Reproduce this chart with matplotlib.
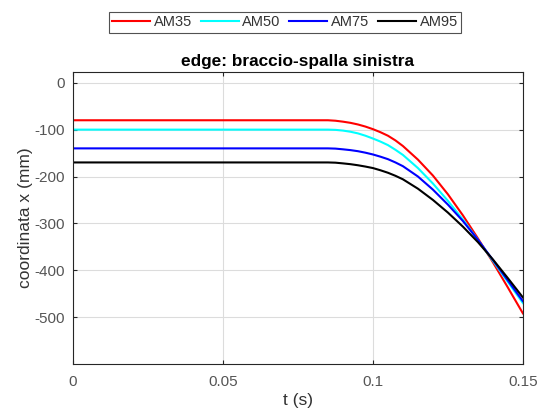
import matplotlib
matplotlib.use("Agg")
import matplotlib.pyplot as plt

plt.rcParams['font.family'] = ['Liberation Sans', 'DejaVu Sans']
plt.rcParams['axes.unicode_minus'] = False

t = [0, 0.05, 0.08, 0.085, 0.0875, 0.09, 0.0925, 0.095, 0.0975, 0.1, 0.1025,
     0.105, 0.1075, 0.11, 0.115, 0.12, 0.125, 0.13, 0.135, 0.14, 0.145, 0.15]
am35 = [-80, -80, -80, -80, -81, -83, -85.5, -89, -93.5, -99, -105.5,
        -113, -123, -135, -164, -198, -238, -283, -332, -383, -437, -492]
am50 = [-100, -100, -100, -100, -100.5, -102, -104.5, -108, -113, -119, -125.5,
        -133, -143, -154, -182, -215, -252, -292, -335, -380, -425, -470]
am75 = [-140, -140, -140, -140, -140.5, -142, -143.7, -146, -149.2, -153, -157.7,
        -163, -170, -178, -200, -228, -260, -295, -335, -378, -422, -466]
am95 = [-170, -170, -170, -170, -170.5, -172, -173.7, -176, -178.8, -182, -186.7,
        -192, -198.5, -206, -226, -250, -277, -307, -340, -377, -417, -458]
labels = ["AM35", "AM50", "AM75", "AM95"]
colors = ["#ff0000", "#00ffff", "#0000ff", "#000000"]
xticks = [0, 0.05, 0.1, 0.15]
xticklabels = ["0", "0.05", "0.1", "0.15"]
yticks = [0, -100, -200, -300, -400, -500]

fig = plt.figure(figsize=(5.46, 4.18), dpi=100)
ax = fig.add_axes([0.1337, 0.1292, 0.824, 0.6986])
lines = []
for y, lab, c in zip([am35, am50, am75, am95], labels, colors):
    ln, = ax.plot(t, y, color=c, lw=1.5, label=lab)
    lines.append(ln)

ax.set_xlim(0, 0.15)
ax.set_ylim(-600, 23)
ax.set_xticks(xticks)
ax.set_xticklabels(xticklabels)
ax.set_yticks(yticks)
ax.grid(True, color="#dcdcdc", lw=0.8)
ax.set_axisbelow(True)
ax.tick_params(direction="in", top=True, right=True, labelsize=11,
               colors="#555555", length=3, pad=6)
ax.tick_params(axis="x", pad=8)
ax.tick_params(axis="both", color="#262626")
for s in ax.spines.values():
    s.set_color("#262626")
    s.set_linewidth(0.8)
ax.set_xlabel("t (s)", fontsize=12.5, color="#333333", labelpad=3)
ax.set_ylabel("coordinata x (mm)", fontsize=12.5, color="#333333", labelpad=1)
ax.set_title("edge: braccio-spalla sinistra", fontsize=12.4, fontweight="bold",
             color="#000000", pad=4)

leg = fig.legend(handles=lines, loc="center", bbox_to_anchor=(0.522, 0.947),
                 ncol=4, fontsize=10.5, frameon=True, fancybox=False,
                 edgecolor="#262626", handlelength=2.6, handletextpad=0.25,
                 columnspacing=0.6, borderpad=0.25, borderaxespad=0)
leg.get_frame().set_linewidth(0.8)
for txt in leg.get_texts():
    txt.set_color("#333333")

fig.savefig("out.png", dpi=100)
